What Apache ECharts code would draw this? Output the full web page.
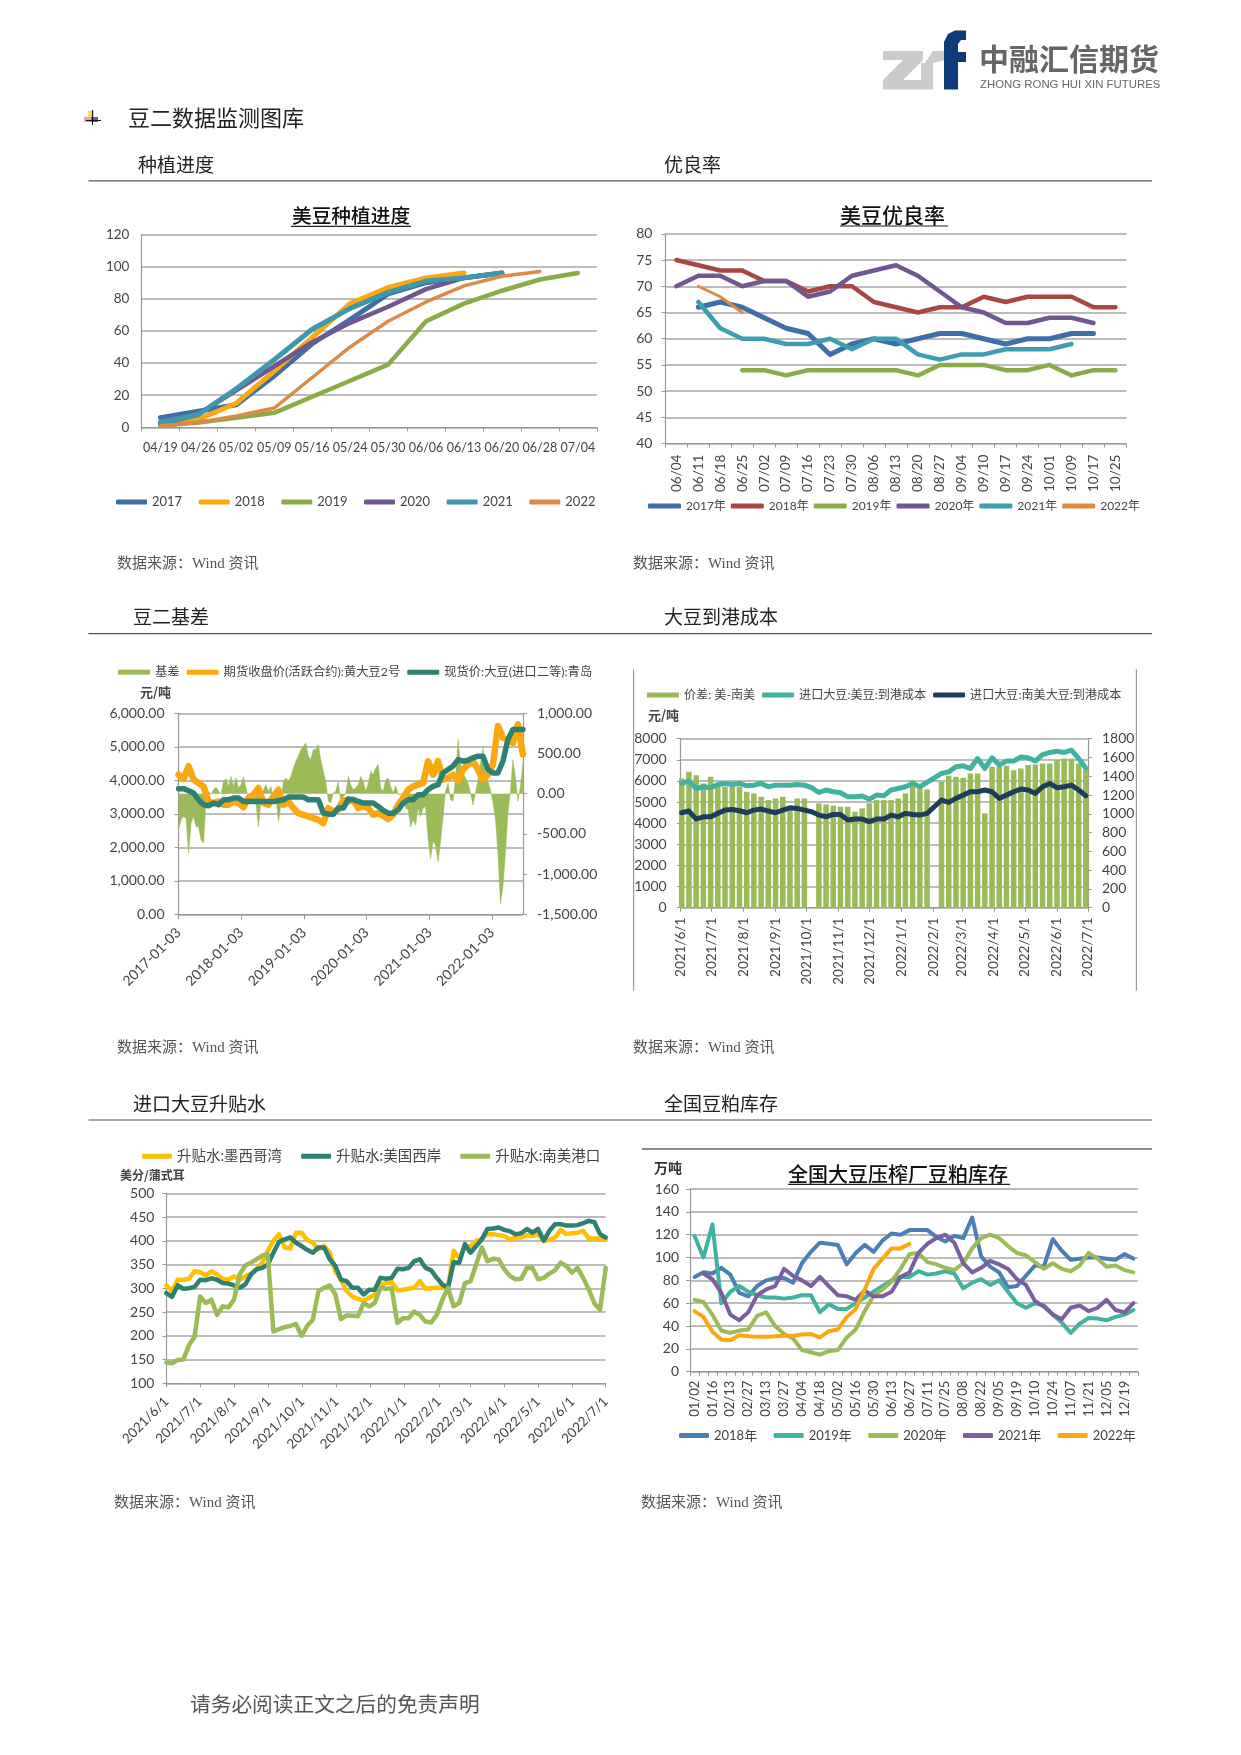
<!DOCTYPE html>
<html><head><meta charset="utf-8">
<style>html,body{margin:0;padding:0;background:#fff}#wrap{position:relative;width:1241px;height:1755px}
.c{position:absolute;left:0;top:0;width:1241px;height:1755px}</style>
<script src="https://cdn.jsdelivr.net/npm/echarts@6/dist/echarts.min.js"></script>
</head><body><div id="wrap"></div>
<script>
// ---------- Chart 1: 美豆种植进度
const plantCats = ['04/19','04/26','05/02','05/09','05/16','05/24','05/30','06/06','06/13','06/20','06/28','07/04'];
const plant2017 = [6,10,14,32,52,67,83,90,93,96];
const plant2018 = [2,5,15,35,56,77,87,93,96];
const plant2019 = [1,3,6,9,19,29,39,66,77,85,92,96];
const plant2020 = [2,8,23,38,53,65,75,86,93,96];
const plant2021 = [3,8,24,42,61,74,84,91,93,96];
const plant2022 = [1,3,7,12,31,50,66,78,88,94,97];
// ---------- Chart 2: 美豆优良率
const goodCats = ['06/04','06/11','06/18','06/25','07/02','07/09','07/16','07/23','07/30','08/06','08/13','08/20','08/27','09/04','09/10','09/17','09/24','10/01','10/09','10/17','10/25'];
const good2017 = [null,66,67,66,64,62,61,57,59,60,59,60,61,61,60,59,60,60,61,61];
const good2018 = [75,74,73,73,71,71,69,70,70,67,66,65,66,66,68,67,68,68,68,66,66];
const good2019 = [null,null,null,54,54,53,54,54,54,54,54,53,55,55,55,54,54,55,53,54,54];
const good2020 = [70,72,72,70,71,71,68,69,72,73,74,72,69,66,65,63,63,64,64,63];
const good2021 = [null,67,62,60,60,59,59,60,58,60,60,57,56,57,57,58,58,58,59];
const good2022 = [null,70,68,65];
// ---------- Chart 3: 豆二基差
const basisVals = [-450,-325,-285,-305,-740,-365,-285,-410,-410,-575,-615,-75,30,-10,50,80,30,-10,155,185,90,215,90,195,70,110,210,70,-75,-95,-55,-115,-410,-95,50,110,30,90,-55,-35,-345,-140,155,195,155,215,320,405,465,550,590,635,465,425,550,550,610,425,280,155,-95,-115,10,30,155,-115,-35,0,215,110,50,70,110,215,155,30,130,280,235,320,365,70,30,175,195,90,10,100,-10,-10,-10,-180,-200,-410,-325,-390,-180,-285,-180,-160,-575,-805,-595,-640,-845,-595,-285,30,130,-75,-95,195,675,385,260,195,130,10,-140,10,175,385,570,215,155,50,-115,-325,-740,-1370,-1160,-740,-240,30,425,215,-95,90,385];
const futuresVals = [4170,4040,4420,4020,3920,3820,3370,3320,3370,3270,3270,3370,3320,3200,3470,3570,3770,3320,3270,3520,3720,3270,3370,3170,3020,2970,2920,2870,2820,2720,3170,3070,3120,3420,3370,3420,3170,3220,3170,2970,3020,2940,2840,2970,3270,3470,3720,3820,3870,3920,4570,4170,4570,4020,4070,4170,3970,4320,4470,4570,4320,4020,4170,4470,5620,5270,5220,5120,5670,4770];
const spotVals = [3750,3750,3690,3620,3420,3270,3240,3320,3270,3420,3420,3470,3470,3370,3370,3370,3370,3370,3370,3370,3390,3420,3500,3500,3500,3500,3420,3420,3420,3020,2990,2990,3170,3170,3440,3420,3370,3320,3320,3320,3220,3100,3020,3020,3120,3320,3420,3420,3570,3570,3720,3820,3870,4220,4320,4420,4620,4570,4600,4670,4720,4720,4320,4220,4220,4570,5220,5520,5520,5520];
const basisYears = [2017,2018,2019,2020,2021,2022];
// ---------- Chart 4: 大豆到港成本 (weekly reads)
const spreadVals = [1376,1447,1412,1323,1394,1305,1288,1288,1288,1235,1217,1181,1146,1164,1181,1076,1164,1164,null,1111,1100,1087,1076,1076,1023,1058,1111,1146,1146,1146,1164,1217,1359,1270,1260,null,1341,1405,1394,1384,1430,1430,1005,1501,1501,1511,1465,1483,1519,1526,1536,1536,1572,1589,1589,1536,1465];
const usCostVals = [5880,5990,5645,5725,5680,5835,5880,5835,5880,5770,5800,5880,5725,5800,5800,5800,5835,5800,5680,5455,5570,5490,5440,5250,5250,5285,5140,5330,5300,5570,5645,5725,5880,5725,5930,6150,6355,6430,6670,6715,6590,7060,6590,7095,6750,6940,6940,7140,7095,6940,7250,7350,7410,7350,7455,7060,6600];
const saCostVals = [4495,4575,4195,4305,4305,4465,4620,4650,4590,4495,4620,4670,4575,4495,4620,4730,4700,4620,4545,4385,4305,4415,4415,4150,4195,4195,4070,4195,4195,4385,4305,4465,4415,4385,4465,4780,5095,4985,5175,5330,5490,5490,5570,5490,5175,5330,5490,5615,5570,5410,5725,5880,5680,5725,5800,5570,5300];
// ---------- Chart 5: 进口大豆升贴水
const gulfVals = [306,294,318,318,320,336,334,327,336,329,320,318,325,318,325,331,340,354,379,400,414,386,384,417,417,402,396,382,389,375,336,318,294,283,278,274,280,287,308,311,313,296,297,299,301,315,299,300,301,302,301,379,364,386,389,400,403,414,414,412,410,403,407,407,412,410,414,400,402,407,423,414,416,417,421,405,405,405,402];
const westVals = [290,282,306,299,300,303,318,317,321,318,311,310,306,301,308,329,340,343,350,375,398,403,407,396,389,381,375,386,386,361,347,318,315,301,301,287,297,297,322,320,322,341,340,343,357,361,343,338,322,308,301,355,354,393,375,389,403,425,426,428,423,420,414,416,425,417,425,400,421,435,435,432,432,433,437,442,439,414,407];
const saPortVals = [144,142,149,150,180,198,283,269,276,244,262,260,276,329,348,354,361,369,371,209,214,218,221,225,200,221,234,294,301,306,287,235,243,242,241,269,262,269,301,299,300,227,237,237,251,244,230,228,244,276,301,262,269,311,315,350,386,357,362,361,340,326,319,320,343,343,319,322,331,338,354,347,333,343,322,297,268,255,343];
const monthTicks = [[2021,6],[2021,7],[2021,8],[2021,9],[2021,10],[2021,11],[2021,12],[2022,1],[2022,2],[2022,3],[2022,4],[2022,5],[2022,6],[2022,7]];
// ---------- Chart 6: 全国大豆压榨厂豆粕库存
const mealCats = ['01/02','01/09','01/16','01/30','02/13','02/20','02/27','03/06','03/13','03/20','03/27','03/30','04/04','04/11','04/18','04/25','05/02','05/09','05/16','05/23','05/30','06/06','06/13','06/20','06/27','07/04','07/11','07/18','07/25','08/01','08/08','08/15','08/22','08/29','09/05','09/12','09/19','09/26','10/10','10/17','10/24','10/31','11/07','11/14','11/21','11/28','12/05','12/12','12/19','12/26'];
const meal2018 = [83,87,86,91,85,69,66,75,80,82,82,78,95,105,113,112,111,94,104,111,105,115,121,120,124,124,124,118,114,119,117,135,101,92,87,74,75,84,93,92,116,106,98,99,100,100,99,98,103,99];
const meal2019 = [119,100,129,60,70,75,70,67,65,65,64,65,67,67,52,59,55,55,60,65,70,75,80,83,83,88,85,86,88,86,73,78,81,76,80,70,60,56,60,58,50,43,34,42,47,46.5,45,48,50,54];
const meal2020 = [63,61,50,36,34,36,37,49,52,40,33,29,19,17,15,18,19,30,37,53,67,72,79,90,103,104,96,94,91,89,95,108,117,120,117,110,104,102,96,90,95,90,88,93,104,99,92,93,89,87];
const meal2021 = [null,86,81,69,50,45,52,67,72,75,90,84,80,75,83,75,67,66,63,71,66,66,70,83,87,104,112,117,120,113,95,87,91,97,94,90,81,76,62,57,50,46,56,58,53,56,63,54,52,60];
const meal2022 = [53,48,35,28,27.5,32,31,30.5,30.5,31,31.5,31.5,32.5,33,30,35.5,37,48,55,72,90,99,108,108,112];

// ---------- helpers
const DAY = 86400000;
const FONT = 'Lato, "Noto Sans CJK SC", sans-serif';
const CJK = '"Noto Sans CJK SC", sans-serif';
const SRC = '"Liberation Serif", "Noto Sans CJK SC", serif';
const TXT = '#444';
const seq = (start, step, n) => Array.from({length:n}, (_, i) => start + i * step * DAY);
const zip = (xs, ys) => ys.map((y, i) => [xs[i], y]);
const GRID = {lineStyle:{color:'#a6a6a6', width:1.5}};
const axisLine = {show:true, lineStyle:{color:'#999', width:1.2}};
const tick = (len) => ({show:true, length:len, lineStyle:{color:'#999', width:1}});
function mount(option){
  const d = document.createElement('div'); d.className = 'c';
  document.getElementById('wrap').appendChild(d);
  const c = echarts.init(d, null, {renderer:'canvas'});
  c.setOption(Object.assign({animation:false, backgroundColor:'transparent'}, option));
}
const line = (name, data, color, width, extra) => Object.assign({type:'line', name, data, symbol:'none', showSymbol:false,
  connectNulls:false, lineStyle:{color, width, cap:'round', join:'round'}, itemStyle:{color}}, extra || {});
const legend = (left, top, gap, size, names, iw, extra) => Object.assign({left, top, itemGap:gap, itemWidth:iw, itemHeight:5,
  icon:'roundRect', padding:0, textStyle:{fontSize:size, color:TXT, fontFamily:FONT}, data:names}, extra || {});
const yAxisBase = (min, max, interval, size, tl, margin, fmt) => ({type:'value', min, max, interval, splitLine:{show:true, lineStyle:GRID.lineStyle},
  axisLine, axisTick:tick(tl), axisLabel:{fontSize:size, color:TXT, fontFamily:FONT, margin, formatter:fmt}});
const catAxis = (data, size, rot, margin, labelInt) => ({type:'category', data, boundaryGap:true, axisLine,
  axisTick:Object.assign(tick(4), {alignWithLabel:false, interval:0}),
  axisLabel:{fontSize:size, color:TXT, fontFamily:FONT, rotate:rot, margin, interval:labelInt}});
const plainNum = (v) => String(v);

// ---------- page text
const txt = (x, y, text, size, o) => ({type:'text', x, y, silent:true, style:Object.assign({text, fontSize:size, fontFamily:CJK, fill:'#222',
  textVerticalAlign:'middle', verticalAlign:'middle'}, o || {})});
const rule = (x1, y, x2, color, w) => ({type:'line', silent:true, shape:{x1, y1:y, x2, y2:y}, style:{stroke:color, lineWidth:w}});
const vrule = (x, y1, y2, color, w) => ({type:'line', silent:true, shape:{x1:x, y1, x2:x, y2}, style:{stroke:color, lineWidth:w}});
const poly = (points, fill) => ({type:'polygon', silent:true, shape:{points}, style:{fill}});
const rect = (x, y, width, height, fill) => ({type:'rect', silent:true, shape:{x, y, width, height}, style:{fill}});
const srcText = '数据来源\uFF1AWind 资讯';
const srcStyle = {fontFamily:SRC, fill:'#555'};
const boldUnit = {fontWeight:'bold', fill:'#444'};
const titleStyle = {fontWeight:500, fill:'#111'};
const page = [
  // logo
  poly([[883,51],[923,51],[923,60],[903,80],[923,80],[923,89.5],[883,89.5],[883,80],[903,60],[883,60]], '#cbcbcb'),
  poly([[921,63],[933,63],[933,89.5],[921,89.5]], '#cbcbcb'),
  poly([[925,63],[933,51],[945,51],[945,60],[933,63]], '#cbcbcb'),
  poly([[944,89.5],[958,89.5],[958,62],[966,62],[966,52],[958,52],[958,44],[961,40],[966,40],[966,30.5],[955,30.5],[948,34],[944,42]], '#0e3a78'),
  txt(979,58.5,'中融汇信期货',30,{fill:'#666',fontWeight:'bold'}),
  txt(980,85,'ZHONG RONG HUI XIN FUTURES',11.4,{fill:'#666',fontFamily:'"Liberation Sans"'}),
  // bullet
  rect(88,111,6,6,'#fbd468'), rect(84,117,9,5,'#f7a0a8'), rect(91,117,7,5,'#5a5ad0'),
  rule(86,120.5,101,'#111',1), vrule(92.5,110,125,'#111',1),
  txt(128,117.3,'豆二数据监测图库',22),
  txt(138,164.3,'种植进度',19), txt(664,164.3,'优良率',19),
  rule(88.5,180.9,1152,'#555',1.2),
  txt(133,616.7,'豆二基差',19), txt(664,616.7,'大豆到港成本',19),
  rule(88.5,633.7,1152,'#555',1.2),
  txt(133,1103.3,'进口大豆升贴水',19), txt(664,1103.3,'全国豆粕库存',19),
  rule(88.5,1120,1152,'#555',1.2),
  txt(292,215.7,'美豆种植进度',19.7,titleStyle), rule(291,226.4,411,'#222',1.2),
  txt(840,215,'美豆优良率',21,titleStyle), rule(840,226,948,'#222',1.2),
  rule(642,1149,1152,'#888',2),
  txt(788,1174.3,'全国大豆压榨厂豆粕库存',20,titleStyle), rule(788,1184.3,1010,'#222',1.2),
  txt(654,1167.7,'万吨',14,{fontWeight:'bold',fill:'#333'}),
  txt(140,691.7,'元/吨',13,boldUnit),
  txt(648,715,'元/吨',13,boldUnit),
  txt(120,1175,'美分/蒲式耳',12,boldUnit),
  vrule(633.6,669.3,990.7,'#999',1.2),
  vrule(1136.4,669.3,990.7,'#999',1.2),
  txt(117,564,srcText,15,srcStyle), txt(633,564,srcText,15,srcStyle),
  txt(117,1048.3,srcText,15,srcStyle), txt(633,1048.3,srcText,15,srcStyle),
  txt(114,1502.7,srcText,15,srcStyle), txt(641,1502.7,srcText,15,srcStyle),
  txt(190,1704,'请务必阅读正文之后的免责声明',20.7,{fill:'#555',fontFamily:CJK})
];
mount({graphic:{elements:page}});

// ---------- chart 1
const c1 = {c17:'#3f6ea8', c18:'#fba70f', c19:'#8aab47', c20:'#71578f', c21:'#3e97ad', c22:'#dd8a48'};
mount({
  grid:{left:141.4, top:234.5, width:455.4, height:192.8},
  legend:legend(116, 495.5, 16.5, 13, ['2017','2018','2019','2020','2021','2022'], 31),
  xAxis:catAxis(plantCats, 12.5, 0, 14, 0),
  yAxis:Object.assign(yAxisBase(0,120,20,13.5,0,12), {axisTick:{show:false}}),
  series:[
    line('2017',plant2017,c1.c17,5), line('2018',plant2018,c1.c18,5), line('2019',plant2019,c1.c19,4.5),
    line('2020',plant2020,c1.c20,4.5), line('2021',plant2021,c1.c21,5), line('2022',plant2022,c1.c22,3.5)
  ]
});
// ---------- chart 2
const c2 = {c17:'#3f6ea8', c18:'#a94744', c19:'#8aab47', c20:'#71578f', c21:'#3e9db3', c22:'#e08a3c'};
mount({
  grid:{left:665.4, top:233.8, width:461, height:209.8},
  legend:legend(648, 500, 5, 12, ['2017年','2018年','2019年','2020年','2021年','2022年'], 33),
  xAxis:catAxis(goodCats, 13.5, 90, 11, 0),
  yAxis:yAxisBase(40,80,5,14,4,13),
  series:[
    line('2017年',good2017,c2.c17,5), line('2018年',good2018,c2.c18,4.5), line('2019年',good2019,c2.c19,4.5),
    line('2020年',good2020,c2.c20,4.5), line('2021年',good2021,c2.c21,4.5), line('2022年',good2022,c2.c22,3)
  ]
});
// ---------- chart 3
const d0 = new Date(2017,0,3).getTime(), d1 = new Date(2022,6,1).getTime();
const spanDays = (d1 - d0) / DAY;
const basisDates = seq(d0, spanDays / (basisVals.length - 1), basisVals.length);
const lineDates = seq(d0, spanDays / (futuresVals.length - 1), futuresVals.length);
const yearTicks = basisYears.map(y => new Date(y,0,3).getTime());
const money = (v) => (v < 0 ? '-' : '') + Math.abs(v).toLocaleString('en-US') + '.00';
mount({
  grid:{left:178.6, top:713.3, width:344.3, height:201},
  legend:legend(118, 666, 7, 12.3, [{name:'基差',icon:'rect'},'期货收盘价(活跃合约):黄大豆2号','现货价:大豆(进口二等):青岛'], 32),
  xAxis:{type:'value', min:d0, max:d1, axisLine, splitLine:{show:false},
    axisTick:Object.assign(tick(5), {customValues:yearTicks}),
    axisLabel:{customValues:yearTicks, rotate:45, fontSize:14, color:TXT, fontFamily:FONT, margin:16, hideOverlap:false,
      formatter:(v)=>new Date(v).getFullYear()+'-01-03'}},
  yAxis:[
    yAxisBase(0,6000,1000,14,4,14,money),
    Object.assign(yAxisBase(-1500,1000,500,14,4,14,money), {splitLine:{show:false}})
  ],
  series:[
    line('基差',zip(basisDates,basisVals),'#9bbb59',0.5,{yAxisIndex:1,z:1,areaStyle:{color:'#9bbb59',opacity:1}}),
    line('期货收盘价(活跃合约):黄大豆2号',zip(lineDates,futuresVals),'#fba70f',6.5,{z:2}),
    line('现货价:大豆(进口二等):青岛',zip(lineDates,spotVals),'#2c8172',5.5,{z:3})
  ]
});
// ---------- chart 4
const m0 = new Date(2021,5,1).getTime(), m1 = new Date(2022,6,1).getTime();
const monthStamps = monthTicks.map(([y,m]) => new Date(y,m-1,1).getTime());
const weekDates = seq(new Date(2021,5,2).getTime(), 7, spreadVals.length);
const monthFmt = (v)=>{const d=new Date(v);return d.getFullYear()+'/'+(d.getMonth()+1)+'/'+d.getDate();};
const timeAxis = (rot, size, margin) => ({type:'value', min:m0, max:m1, axisLine, splitLine:{show:false},
  axisTick:Object.assign(tick(4), {customValues:monthStamps}),
  axisLabel:{customValues:monthStamps, rotate:rot, fontSize:size, color:TXT, fontFamily:FONT, margin, hideOverlap:false, formatter:monthFmt}});
mount({
  grid:{left:680.7, top:738.7, width:407.2, height:169},
  legend:legend(647, 689, 7, 12.1, [{name:'价差: 美-南美',icon:'rect'},'进口大豆:美豆:到港成本','进口大豆:南美大豆:到港成本'], 32),
  xAxis:timeAxis(90,13.5,10),
  yAxis:[ yAxisBase(0,8000,1000,14,4,14,plainNum),
    Object.assign(yAxisBase(0,1800,200,14,4,14,plainNum), {splitLine:{show:false}}) ],
  series:[
    {type:'bar',name:'价差: 美-南美',data:zip(weekDates,spreadVals),yAxisIndex:1,barWidth:5.5,itemStyle:{color:'#9bbb59'},z:1},
    line('进口大豆:美豆:到港成本',zip(weekDates,usCostVals),'#3fb3a0',5,{z:2}),
    line('进口大豆:南美大豆:到港成本',zip(weekDates,saCostVals),'#1c3d5c',5,{z:3})
  ]
});
// ---------- chart 5
const premDates = seq(m0, (m1 - m0) / DAY / (gulfVals.length - 1), gulfVals.length);
mount({
  grid:{left:166.4, top:1193.3, width:439.3, height:190},
  legend:legend(142, 1149, 19, 14.5, ['升贴水:墨西哥湾','升贴水:美国西岸','升贴水:南美港口'], 30),
  xAxis:timeAxis(45,13.5,16),
  yAxis:yAxisBase(100,500,50,14,4,12),
  series:[
    line('升贴水:墨西哥湾',zip(premDates,gulfVals),'#ffc000',4.5,{z:2}),
    line('升贴水:美国西岸',zip(premDates,westVals),'#2c8172',4.5,{z:3}),
    line('升贴水:南美港口',zip(premDates,saPortVals),'#9bbb59',4.5,{z:4})
  ]
});
// ---------- chart 6
mount({
  grid:{left:690, top:1189, width:447.9, height:182.7},
  legend:legend(679, 1429, 16.5, 13, ['2018年','2019年','2020年','2021年','2022年'], 30),
  xAxis:catAxis(mealCats, 13, 90, 9, 1),
  yAxis:yAxisBase(0,160,20,14,4,11),
  series:[
    line('2018年',meal2018,'#4a7fb5',4), line('2019年',meal2019,'#3fb3a0',4), line('2020年',meal2020,'#9bbb59',4),
    line('2021年',meal2021,'#7a5fa0',4), line('2022年',meal2022,'#fba70f',4)
  ]
});
</script></body></html>
